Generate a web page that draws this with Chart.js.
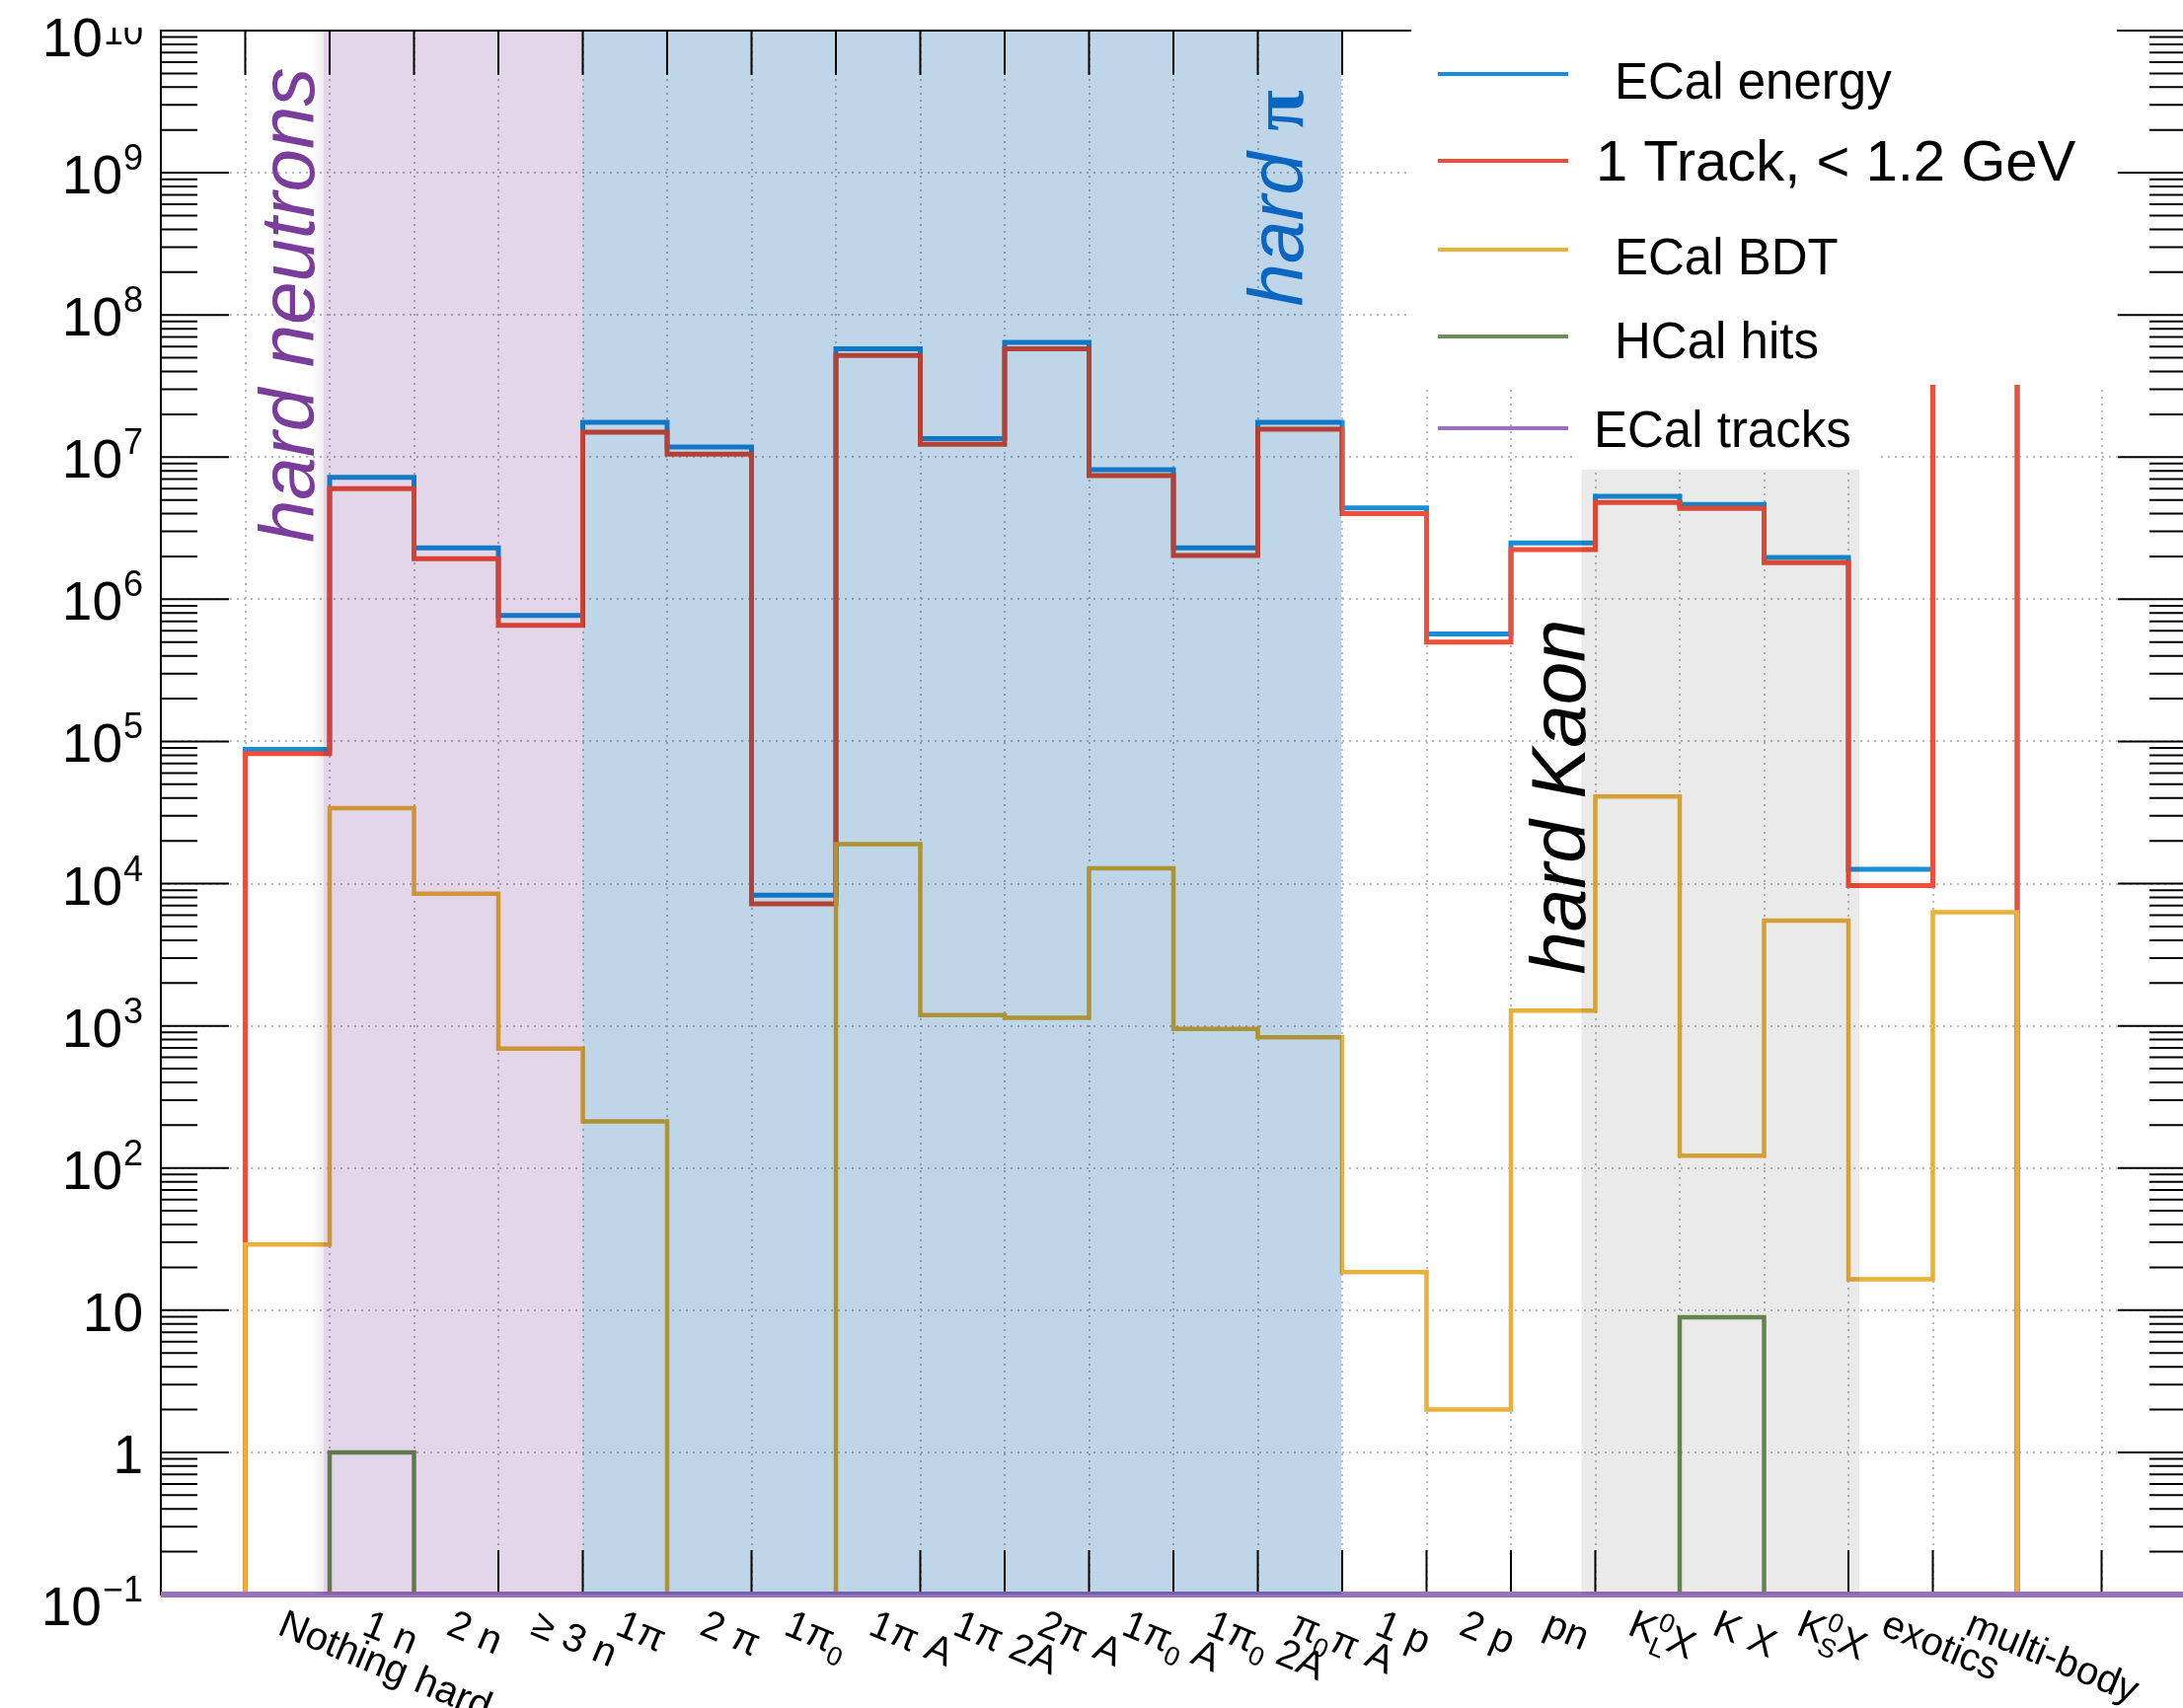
<!DOCTYPE html>
<html>
<head>
<meta charset="utf-8">
<script src="https://cdn.jsdelivr.net/npm/chart.js@4.4.1/dist/chart.umd.min.js"></script>
<style>
  html, body { margin: 0; padding: 0; background: #fff; overflow: hidden; }
  canvas { display: block; }
</style>
</head>
<body>
<canvas id="c" width="2260" height="1731"></canvas>
<script>
// Final-state categories: 24 bins, the outer ones are empty.
const binLabels = ['', 'Nothing hard', '1 n', '2 n', '\u2265 3 n', '1\u03c0', '2 \u03c0', '1\u03c0_{0}',
  '1\u03c0 A', '1\u03c0 2A', '2\u03c0 A', '1\u03c0_{0} A', '1\u03c0_{0} 2A', '\u03c0_{0}\u03c0 A',
  '1 p', '2 p', 'pn', 'K^{0}_{L}X', 'K X', 'K^{0}_{S}X', 'exotics', 'multi-body', '', ''];

// Events per category after each selection step (0 = empty bin).
const ecalEnergy = [0, 8.8e4, 7.2e6, 2.3e6, 7.7e5, 1.76e7, 1.18e7, 8.3e3, 5.77e7, 1.35e7, 6.42e7, 8.15e6,
  2.3e6, 1.76e7, 4.4e6, 5.7e5, 2.49e6, 5.29e6, 4.64e6, 1.97e6, 1.26e4, 2.1e9, 0, 0];
const oneTrack = [0, 8.2e4, 6.0e6, 1.93e6, 6.55e5, 1.5e7, 1.05e7, 7.2e3, 5.18e7, 1.23e7, 5.77e7, 7.4e6,
  2.03e6, 1.57e7, 4.0e6, 5.0e5, 2.24e6, 4.8e6, 4.36e6, 1.81e6, 9.7e3, 1.9e9, 0, 0];
const ecalBDT = [0, 29, 3.4e4, 8.5e3, 690, 213, 0, 0, 1.9e4, 1190, 1140, 1.28e4,
  950, 830, 18.5, 2.0, 1280, 4.1e4, 122, 5.5e3, 16.5, 6.3e3, 0, 0];
const hcalHits = [0, 0, 1, 0, 0, 0, 0, 0, 0, 0, 0, 0, 0, 0, 0, 0, 0, 0, 8.9, 0, 0, 0, 0, 0];
const ecalTracks = [0, 0, 0, 0, 0, 0, 0, 0, 0, 0, 0, 0, 0, 0, 0, 0, 0, 0, 0, 0, 0, 0, 0, 0];

const seriesNames = ['ECal energy', '1 Track, < 1.2 GeV', 'ECal BDT', 'HCal hits', 'ECal tracks'];
const seriesColors = ['rgb(22,143,216)', 'rgb(240,78,56)', 'rgb(233,176,58)', 'rgb(110,143,84)', 'rgb(155,112,190)'];
const seriesWidths = [5, 5, 4.5, 4.5, 6];

// Y axis decades and their labels (base, exponent)
const yTickValues = [0.1, 1, 10, 1e2, 1e3, 1e4, 1e5, 1e6, 1e7, 1e8, 1e9, 1e10];
const yTickBase = ['10', '1', '10', '10', '10', '10', '10', '10', '10', '10', '10', '10'];
const yTickExp = ['\u22121', '', '', '2', '3', '4', '5', '6', '7', '8', '9', '10'];
const Y_MIN = 0.1, Y_MAX = 1e10;

// Highlighted groups of categories (bin ranges)
const regionFrom = [2, 5, 17];
const regionTo = [5, 14, 20];
const regionTopValue = [null, null, 8.2e6];
const regionColors = ['rgb(226,214,232)', 'rgb(191,213,232)', 'rgb(234,234,234)'];
const regionPadL = [-6, 0, -14];
const regionPadR = [0, -1, 11];

// Group captions: text, bin position of the baseline, value where text starts
const groupText = ['hard neutrons', 'hard ', 'hard Kaon'];
const groupBin = [1.81, 13.53, 16.88];
const groupValue = [2.5e6, 1.15e8, 2.3e3];
const groupColors = ['#7a3d9b', '#0b66c2', '#000000'];

const W = 2260, H = 1731;
const AREA = { left: 163, top: 31, right: 2215, bottom: 1616 };
const FONT = '"Liberation Sans", Arial, Helvetica, sans-serif';

// Empty bins sit on the axis floor, as a log-scale histogram draws them.
function stepPoints(arr) {
  const pts = arr.map((v, i) => ({ x: i, y: v > 0 ? v : Y_MIN }));
  pts.push({ x: arr.length, y: pts[pts.length - 1].y });
  return pts;
}

const seriesData = [ecalEnergy, oneTrack, ecalBDT, hcalHits, ecalTracks];
const datasets = seriesData.map((arr, i) => ({
  label: seriesNames[i],
  data: stepPoints(arr),
  borderColor: seriesColors[i],
  borderWidth: seriesWidths[i],
  stepped: 'before',
  pointRadius: 0,
  fill: false,
  borderJoinStyle: 'miter',
  borderCapStyle: 'butt',
  order: 5 - i,
  clip: { left: 2, top: 0, right: 0, bottom: 8 }
}));

function parseRich(s) {
  const segs = [];
  let buf = '', i = 0;
  while (i < s.length) {
    const c = s[i];
    if ((c === '_' || c === '^') && s[i + 1] === '{') {
      if (buf) { segs.push({ t: buf, k: 'n' }); buf = ''; }
      const end = s.indexOf('}', i);
      segs.push({ t: s.slice(i + 2, end), k: c === '_' ? 'sub' : 'sup' });
      i = end + 1;
    } else { buf += c; i++; }
  }
  if (buf) segs.push({ t: buf, k: 'n' });
  return segs;
}

function drawRich(ctx, segs, x0, base, size) {
  let cx = x0;
  const small = Math.round(size * 0.68);
  for (let i = 0; i < segs.length; i++) {
    const s = segs[i];
    if (s.k === 'n') {
      ctx.font = `${size}px ${FONT}`;
      ctx.fillText(s.t, cx, base);
      cx += ctx.measureText(s.t).width;
    } else {
      ctx.font = `${small}px ${FONT}`;
      let w = ctx.measureText(s.t).width;
      ctx.fillText(s.t, cx, base + (s.k === 'sup' ? -size * 0.42 : size * 0.25));
      const nx = segs[i + 1];
      if (s.k === 'sup' && nx && nx.k === 'sub') {
        ctx.fillText(nx.t, cx, base + size * 0.25);
        w = Math.max(w, ctx.measureText(nx.t).width);
        i++;
      }
      cx += w;
    }
  }
}

const frame = {
  id: 'rootFrame',
  beforeDatasetsDraw(chart) {
    const { ctx, chartArea: a, scales: { x, y } } = chart;
    ctx.save();
    ctx.strokeStyle = '#000';
    ctx.lineWidth = 2;
    ctx.lineCap = 'butt';
    ctx.beginPath();
    ctx.moveTo(a.left, a.bottom); ctx.lineTo(a.left, a.top);
    ctx.lineTo(a.right, a.top); ctx.lineTo(a.right, a.bottom);
    ctx.closePath();
    // log ticks on both vertical axes, pointing inwards
    for (let d = 0; d < yTickValues.length; d++) {
      const dec = yTickValues[d];
      for (let k = 1; k <= 9; k++) {
        const v = dec * k;
        if (v > Y_MAX) break;
        const py = y.getPixelForValue(v);
        const len = k === 1 ? 69 : 37;
        ctx.moveTo(a.left, py); ctx.lineTo(a.left + len, py);
        ctx.moveTo(a.right, py); ctx.lineTo(a.right - len, py);
      }
    }
    // bin-edge ticks on both horizontal axes
    for (let i = 1; i < binLabels.length; i++) {
      const px = x.getPixelForValue(i);
      ctx.moveTo(px, a.top); ctx.lineTo(px, a.top + 45);
      ctx.moveTo(px, a.bottom); ctx.lineTo(px, a.bottom - 45);
    }
    ctx.stroke();
    ctx.restore();
  },
  afterDatasetsDraw(chart) {
    const { ctx, chartArea: a, scales: { x, y } } = chart;

    // shaded category groups, blended over the histograms
    ctx.save();
    ctx.beginPath();
    ctx.rect(a.left, a.top, a.right - a.left, a.bottom - a.top);
    ctx.clip();
    regionFrom.forEach((b0, i) => {
      const x0 = x.getPixelForValue(b0) + regionPadL[i];
      const x1 = x.getPixelForValue(regionTo[i]) + regionPadR[i];
      const y0 = regionTopValue[i] ? y.getPixelForValue(regionTopValue[i]) : a.top;
      if (i === 0) {
        const g = ctx.createLinearGradient(x0 - 12, 0, x0, 0);
        g.addColorStop(0, 'rgba(0,0,0,0)');
        g.addColorStop(1, 'rgba(0,0,0,0.07)');
        ctx.fillStyle = g;
        ctx.fillRect(x0 - 12, y0, 12, a.bottom - y0);
      }
      ctx.globalCompositeOperation = 'multiply';
      ctx.fillStyle = regionColors[i];
      ctx.fillRect(x0, y0, x1 - x0, a.bottom - y0);
      ctx.globalCompositeOperation = 'source-over';
    });
    ctx.restore();

    // y tick labels
    ctx.save();
    ctx.fillStyle = '#000';
    ctx.textAlign = 'right';
    ctx.textBaseline = 'alphabetic';
    const R = a.left - 18;
    yTickValues.forEach((v, i) => {
      const py = y.getPixelForValue(v);
      const shift = i === 0 ? 10 : (i === yTickValues.length - 1 ? 5 : 0);
      let ew = 0;
      if (yTickExp[i]) {
        ctx.font = `36px ${FONT}`;
        ew = ctx.measureText(yTickExp[i]).width + 1;
        ctx.save();
        ctx.beginPath();
        ctx.rect(0, a.top - 3, a.left, H);
        ctx.clip();
        ctx.fillText(yTickExp[i], R, py - 3 + shift + (i === yTickValues.length - 1 ? 12 : 0));
        ctx.restore();
      }
      ctx.font = `55px ${FONT}`;
      ctx.fillText(yTickBase[i], R - ew, py + 21 + shift);
    });
    ctx.restore();

    // rotated category labels
    ctx.save();
    ctx.fillStyle = '#000';
    ctx.textAlign = 'left';
    ctx.textBaseline = 'alphabetic';
    binLabels.forEach((lab, i) => {
      if (!lab) return;
      const cx = x.getPixelForValue(i + 0.5);
      ctx.save();
      ctx.translate(cx, a.bottom + 12);
      ctx.rotate(22.5 * Math.PI / 180);
      drawRich(ctx, parseRich(lab), 0, 30, 40);
      ctx.restore();
    });
    ctx.restore();

    // group captions
    groupText.forEach((t, i) => {
      ctx.save();
      ctx.translate(x.getPixelForValue(groupBin[i]), y.getPixelForValue(groupValue[i]));
      ctx.rotate(-Math.PI / 2);
      ctx.fillStyle = groupColors[i];
      ctx.textAlign = 'left';
      ctx.textBaseline = 'alphabetic';
      ctx.font = `italic 78px ${FONT}`;
      ctx.fillText(t, 0, 0);
      if (i === 1) {
        const w = ctx.measureText(t).width;
        ctx.font = 'bold 76px "Liberation Serif", "DejaVu Serif", serif';
        ctx.fillText('\u03c0', w, 0);
      }
      ctx.restore();
    });

    // legend
    ctx.save();
    ctx.fillStyle = '#ffffff';
    ctx.fillRect(1430, 27, 715, 363);
    ctx.fillRect(1594, 390, 310, 86);
    const lineY = [75, 163, 253, 341, 434];
    const textX = [1636, 1617, 1636, 1636, 1615];
    const baseY = [100, 183, 278, 363, 453];
    const fSize = [51, 58, 51, 51, 51];
    chart.data.datasets.forEach((ds, i) => {
      ctx.strokeStyle = ds.borderColor;
      ctx.lineWidth = 4;
      ctx.beginPath();
      ctx.moveTo(1457, lineY[i]);
      ctx.lineTo(1589, lineY[i]);
      ctx.stroke();
      ctx.fillStyle = '#000';
      ctx.font = `${fSize[i]}px ${FONT}`;
      ctx.textAlign = 'left';
      ctx.fillText(ds.label, textX[i], baseY[i]);
    });
    ctx.restore();
  }
};

const gridStyle = { color: '#b8b8b8', lineWidth: 2, drawTicks: false };

new Chart(document.getElementById('c'), {
  type: 'line',
  data: { datasets },
  options: {
    responsive: false,
    animation: false,
    devicePixelRatio: 1,
    layout: { padding: { left: AREA.left, top: AREA.top, right: W - AREA.right, bottom: H - AREA.bottom } },
    plugins: { legend: { display: false }, tooltip: { enabled: false } },
    scales: {
      x: {
        type: 'linear', min: 0, max: binLabels.length,
        afterBuildTicks: s => { s.ticks = binLabels.map((_, i) => ({ value: i })).concat([{ value: binLabels.length }]); },
        ticks: { display: false },
        grid: gridStyle,
        border: { display: false, dash: [2, 5] }
      },
      y: {
        type: 'logarithmic', min: Y_MIN, max: Y_MAX,
        afterBuildTicks: s => { s.ticks = yTickValues.map(v => ({ value: v })); },
        ticks: { display: false },
        grid: gridStyle,
        border: { display: false, dash: [2, 5] }
      }
    }
  },
  plugins: [frame]
});
</script>
</body>
</html>
